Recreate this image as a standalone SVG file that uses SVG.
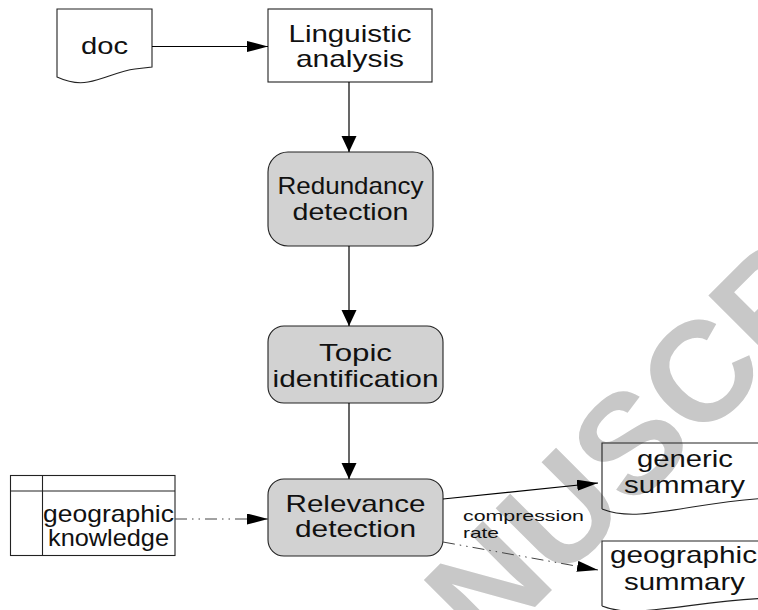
<svg xmlns="http://www.w3.org/2000/svg" width="758" height="610" viewBox="0 0 758 610">
<style>
.t{font-family:"Liberation Sans",Arial,sans-serif;font-size:24px;fill:#111;text-anchor:middle}
.s{font-family:"Liberation Sans",Arial,sans-serif;font-size:15px;fill:#111}
.box{fill:#fff;stroke:#222;stroke-width:1.1}
.rbox{fill:#d2d2d2;stroke:#222;stroke-width:1.1}
.doc{fill:none;stroke:#222;stroke-width:1.1}
.ln{fill:none;stroke:#000;stroke-width:1.2}
.dd{fill:none;stroke:#444;stroke-width:1;stroke-dasharray:12 5 1.5 5 1.5 5}
.wm{font-family:"Liberation Sans",Arial,sans-serif;font-weight:bold;font-size:142px;fill:#c8c8c8}
</style>
<defs>
<marker id="ah" markerUnits="userSpaceOnUse" markerWidth="22" markerHeight="12" refX="21" refY="5.5" orient="auto"><path d="M0,0 L21,5.5 L0,11 Z" fill="#000"/></marker>
<marker id="av" markerUnits="userSpaceOnUse" markerWidth="17" markerHeight="16" refX="16" refY="7.5" orient="auto"><path d="M0,0 L16,7.5 L0,15 Z" fill="#000"/></marker>
</defs>
<text class="wm" transform="translate(330,812) rotate(-45)">MANUSCRIPT</text>

<g id="doc">
<path class="doc" d="M57,77 V9 H152 V67 L135,69 C118,71 105,79 88,82 C78,84 68,82 57,77 Z"/>
<text class="t" x="104.5" y="54" textLength="47" lengthAdjust="spacingAndGlyphs">doc</text>
</g>
<g id="linguistic">
<rect class="box" x="268" y="9" width="164" height="73"/>
<text class="t" x="350" y="42" textLength="123" lengthAdjust="spacingAndGlyphs">Linguistic</text>
<text class="t" x="350" y="67" textLength="108" lengthAdjust="spacingAndGlyphs">analysis</text>
</g>
<g id="redundancy">
<rect class="rbox" x="268" y="152" width="165" height="94" rx="20"/>
<text class="t" x="350.5" y="194" textLength="146" lengthAdjust="spacingAndGlyphs">Redundancy</text>
<text class="t" x="350.5" y="220" textLength="116" lengthAdjust="spacingAndGlyphs">detection</text>
</g>
<g id="topic">
<rect class="rbox" x="268" y="326" width="175" height="77" rx="16"/>
<text class="t" x="355.5" y="361" textLength="73" lengthAdjust="spacingAndGlyphs">Topic</text>
<text class="t" x="355.5" y="387" textLength="166" lengthAdjust="spacingAndGlyphs">identification</text>
</g>
<g id="relevance">
<rect class="rbox" x="268" y="479" width="175" height="77" rx="16"/>
<text class="t" x="355.5" y="512" textLength="140" lengthAdjust="spacingAndGlyphs">Relevance</text>
<text class="t" x="355.5" y="537" textLength="121" lengthAdjust="spacingAndGlyphs">detection</text>
</g>
<g id="geoknowledge">
<rect class="box" x="10.5" y="475.5" width="164.5" height="80" fill="none"/>
<line class="doc" x1="10.5" y1="491" x2="175" y2="491"/>
<line class="doc" x1="42.5" y1="475.5" x2="42.5" y2="555.5"/>
<text class="t" x="108.5" y="522" font-size="19" textLength="131" lengthAdjust="spacingAndGlyphs">geographic</text>
<text class="t" x="108.5" y="546" font-size="19" textLength="121" lengthAdjust="spacingAndGlyphs">knowledge</text>
</g>
<g id="generic">
<path class="doc" d="M602,509 V443 H770 M602,509 C612,513 622,515 640,514 C680,511 720,500 770,498"/>
<text class="t" x="685" y="467" textLength="96" lengthAdjust="spacingAndGlyphs">generic</text>
<text class="t" x="684.5" y="493" textLength="121" lengthAdjust="spacingAndGlyphs">summary</text>
</g>
<g id="geosummary">
<path class="doc" d="M602,606 V541 H770 M602,606 C612,610 622,612 640,611 C680,608 720,600 770,598"/>
<text class="t" x="683.5" y="563" textLength="147" lengthAdjust="spacingAndGlyphs">geographic</text>
<text class="t" x="684.5" y="590" textLength="121" lengthAdjust="spacingAndGlyphs">summary</text>
</g>
<g id="connectors">
<line class="ln" x1="152" y1="46.5" x2="268" y2="46.5" marker-end="url(#ah)"/>
<line class="ln" x1="349" y1="82" x2="349" y2="152" marker-end="url(#av)"/>
<line class="ln" x1="349" y1="246" x2="349" y2="326" marker-end="url(#av)"/>
<line class="ln" x1="349" y1="403" x2="349" y2="479" marker-end="url(#av)"/>
<line class="ln" x1="443" y1="499" x2="598" y2="483" marker-end="url(#ah)"/>
<line class="dd" x1="175" y1="519" x2="268" y2="519" marker-end="url(#ah)"/>
<line class="dd" x1="443" y1="542" x2="598" y2="570" marker-end="url(#ah)"/>
<text class="s" x="463" y="521" textLength="121" lengthAdjust="spacingAndGlyphs">compression</text>
<text class="s" x="463" y="538" textLength="36" lengthAdjust="spacingAndGlyphs">rate</text>
</g>
</svg>
